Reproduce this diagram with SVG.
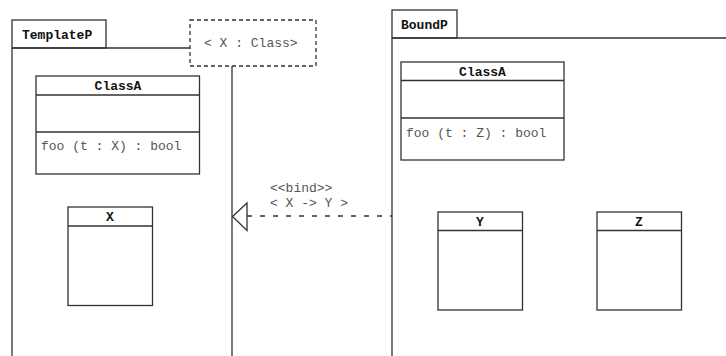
<svg xmlns="http://www.w3.org/2000/svg" width="726" height="356" viewBox="0 0 726 356">
<style>
.ln{fill:none;stroke:#333;stroke-width:1.3}
.bx{fill:#fff;stroke:#333;stroke-width:1.3}
.t{font-family:"Liberation Mono",monospace;font-size:13px;fill:#555}
.b{font-family:"Liberation Mono",monospace;font-size:13px;font-weight:bold;fill:#111}
</style>
<rect width="726" height="356" fill="#fff"/>
<g id="TemplateP">
<rect class="bx" x="12" y="20" width="94" height="28"/>
<text class="b" x="22" y="39">TemplateP</text>
<path class="ln" d="M12 48 H190 M12 48 V356"/>
</g>
<g id="templateParam">
<rect x="190" y="20" width="126" height="46" fill="#fff" stroke="#333" stroke-width="1.3" stroke-dasharray="4,3"/>
<text class="t" x="204" y="47">&lt; X : Class&gt;</text>
</g>
<g id="BoundP">
<rect class="bx" x="392" y="10" width="65" height="28"/>
<text class="b" x="401" y="29">BoundP</text>
<path class="ln" d="M392 38 H726 M392 38 V356"/>
</g>
<g id="ClassA_T">
<rect class="bx" x="36" y="76" width="163.5" height="98"/>
<path class="ln" d="M36 95 H199.5 M36 132 H199.5"/>
<text class="b" x="118" y="90" text-anchor="middle">ClassA</text>
<text class="t" x="41" y="150">foo (t : X) : bool</text>
</g>
<g id="ClassA_B">
<rect class="bx" x="401" y="62" width="163" height="98"/>
<path class="ln" d="M401 80.5 H564 M401 118 H564"/>
<text class="b" x="482.5" y="76" text-anchor="middle">ClassA</text>
<text class="t" x="406" y="137">foo (t : Z) : bool</text>
</g>
<g id="X">
<rect class="bx" x="68" y="207" width="84.5" height="98.5"/>
<path class="ln" d="M68 226 H152.5"/>
<text class="b" x="110" y="221" text-anchor="middle">X</text>
</g>
<g id="Y">
<rect class="bx" x="438" y="212" width="84.5" height="98"/>
<path class="ln" d="M438 230.5 H522.5"/>
<text class="b" x="480" y="226" text-anchor="middle">Y</text>
</g>
<g id="Z">
<rect class="bx" x="597" y="212" width="84.5" height="98"/>
<path class="ln" d="M597 230.5 H681.5"/>
<text class="b" x="639" y="226" text-anchor="middle">Z</text>
</g>
<g id="connectors">
<path class="ln" d="M232 66 V356"/>
<path d="M247 216 H392" fill="none" stroke="#333" stroke-width="1.3" stroke-dasharray="5,8"/>
<path class="bx" d="M247 203 L232.5 216.5 L247 230.5 Z"/>
<text class="t" x="270" y="192">&lt;&lt;bind&gt;&gt;</text>
<text class="t" x="270" y="207">&lt; X -&gt; Y &gt;</text>
</g>
</svg>
